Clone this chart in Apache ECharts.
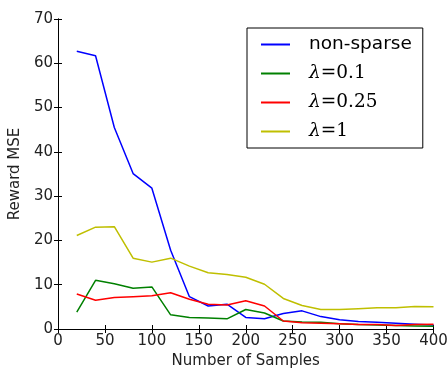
<!DOCTYPE html>
<html>
<head>
<meta charset="utf-8">
<script src="https://cdn.jsdelivr.net/npm/echarts@6/dist/echarts.min.js"></script>
<style>
  html, body { margin: 0; padding: 0; background: #fff; }
  #chart { width: 448px; height: 369px; }
</style>
</head>
<body>
<div id="chart"></div>
<script>
// sample counts on the x axis
const samples = [20, 40, 60, 80, 100, 120, 140, 160, 180, 200, 220, 240, 260, 280, 300, 320, 340, 360, 380, 400];

// reward MSE per run
const nonSparse = [62.7, 61.7, 45.5, 35.1, 31.8, 17.8, 7.3, 5.2, 5.6, 2.6, 2.3, 3.5, 4.1, 2.8, 2.1, 1.7, 1.5, 1.3, 1.1, 0.9];
const lambda01 = [3.8, 11.0, 10.2, 9.2, 9.5, 3.2, 2.6, 2.5, 2.3, 4.4, 3.6, 1.8, 1.6, 1.5, 1.2, 1.0, 0.9, 0.8, 0.7, 0.6];
const lambda025 = [7.9, 6.5, 7.1, 7.3, 7.5, 8.2, 6.7, 5.6, 5.4, 6.4, 5.2, 1.8, 1.4, 1.3, 1.2, 1.0, 1.0, 0.8, 1.0, 1.1];
const lambda1 = [21.1, 23.0, 23.1, 16.0, 15.1, 16.0, 14.2, 12.7, 12.3, 11.7, 10.1, 6.9, 5.3, 4.4, 4.4, 4.6, 4.8, 4.8, 5.1, 5.0];

const seriesNames = ['non-sparse', 'λ=0.1', 'λ=0.25', 'λ=1'];
const seriesColors = ['#0000ff', '#008000', '#ff0000', '#bfbf00'];
const seriesData = [nonSparse, lambda01, lambda025, lambda1];

const chart = echarts.init(document.getElementById('chart'));

const tickStyle = { inside: true, length: 4, lineStyle: { color: '#000', width: 1 } };
const frameLine = { show: true, lineStyle: { color: '#000', width: 1 } };
const labelStyle = { color: '#222', fontSize: 15, fontFamily: 'DejaVu Sans' };

chart.setOption({
  animation: false,
  grid: { left: 58, right: 14.5, top: 19, bottom: 40, outerBoundsMode: 'none', containLabel: false },
  legend: {
    orient: 'vertical',
    left: 247,
    top: 28,
    padding: [7, 11, 7, 14],
    itemGap: 10,
    itemWidth: 29,
    itemHeight: 2,
    icon: 'rect',
    borderColor: '#000',
    borderWidth: 1,
    data: seriesNames,
    formatter: (name) => {
      if (name === 'non-sparse') return '{t|non-sparse}';
      return '{l|λ}{m|=' + name.slice(2) + '}';
    },
    textStyle: {
      rich: {
        t: { fontFamily: 'DejaVu Sans', fontSize: 18.5, color: '#000', padding: [0, 0, 0, 14], height: 18 },
        l: { fontFamily: 'DejaVu Serif', fontStyle: 'italic', fontSize: 18.5, color: '#000', padding: [0, 0, 0, 14], height: 18 },
        m: { fontFamily: 'DejaVu Serif', fontSize: 18.5, color: '#000', height: 18 }
      }
    }
  },
  xAxis: [
    {
      type: 'value',
      min: 0, max: 400, interval: 50,
      name: 'Number of Samples',
      nameLocation: 'middle',
      nameGap: 17,
      nameTextStyle: { color: '#222', fontSize: 15, fontFamily: 'DejaVu Sans', verticalAlign: 'top' },
      axisLine: frameLine,
      axisTick: tickStyle,
      axisLabel: Object.assign({ margin: 5 }, labelStyle),
      splitLine: { show: false }
    },
    {
      type: 'value', position: 'top',
      min: 0, max: 400, interval: 50,
      axisLine: frameLine, axisTick: tickStyle,
      axisLabel: { show: false }, splitLine: { show: false }
    }
  ],
  yAxis: [
    {
      type: 'value',
      min: 0, max: 70, interval: 10,
      name: 'Reward MSE',
      nameLocation: 'middle',
      nameGap: 30,
      nameTextStyle: { color: '#222', fontSize: 15, fontFamily: 'DejaVu Sans' },
      axisLine: frameLine,
      axisTick: tickStyle,
      axisLabel: Object.assign({ margin: 5 }, labelStyle),
      splitLine: { show: false }
    },
    {
      type: 'value', position: 'right',
      min: 0, max: 70, interval: 10,
      axisLine: frameLine, axisTick: tickStyle,
      axisLabel: { show: false }, splitLine: { show: false }
    }
  ],
  series: seriesNames.map((name, i) => ({
    name,
    type: 'line',
    data: samples.map((x, j) => [x, seriesData[i][j]]),
    showSymbol: false,
    symbol: 'none',
    lineStyle: { color: seriesColors[i], width: 1.5 },
    itemStyle: { color: seriesColors[i] }
  }))
});
</script>
</body>
</html>
